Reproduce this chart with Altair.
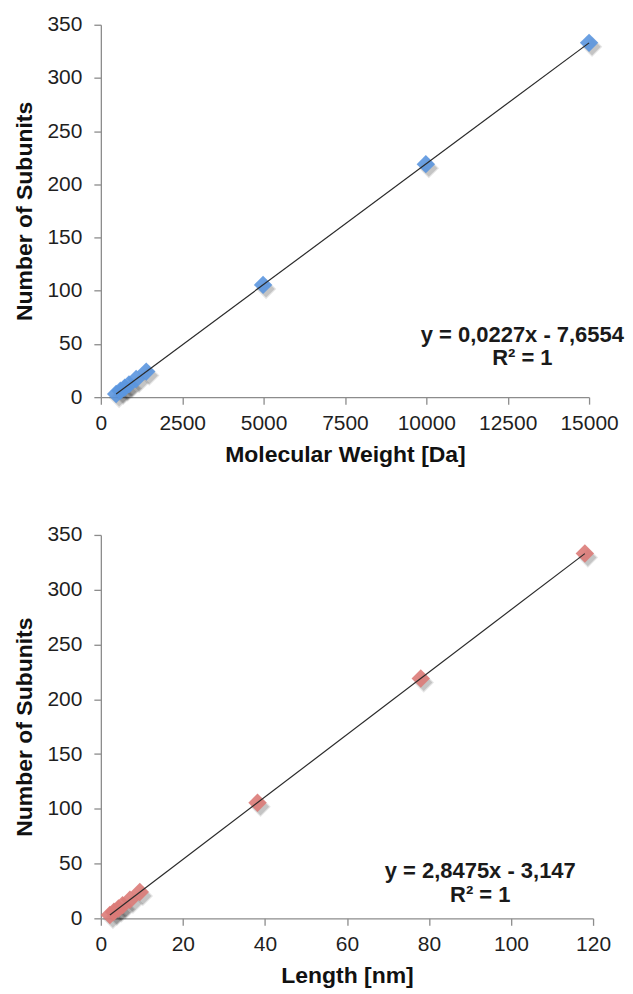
import altair as alt
import pandas as pd

# --- data ---
subunits = [3, 6, 9, 12, 17, 24, 105.5, 219, 333]
mol_weight = [470, 600, 735, 865, 1085, 1395, 4985, 9985, 15000]
length_nm = [2.2, 3.2, 4.3, 5.3, 7.1, 9.5, 38.2, 78.0, 118.0]

eq_top = ["y = 0,0227x  - 7,6554", "R² = 1"]
eq_top_x = [12950, 12950]
eq_top_y = [58.5, 37]

eq_bot = ["y = 2,8475x  - 3,147", "R² = 1"]
eq_bot_x = [92.5, 92.5]
eq_bot_y = [43.5, 21]

x_ticks_top = [0, 2500, 5000, 7500, 10000, 12500, 15000]
x_ticks_bot = [0, 20, 40, 60, 80, 100, 120]
y_ticks = [0, 50, 100, 150, 200, 250, 300, 350]

FONT = "Liberation Sans"

top_df = pd.DataFrame({"x": mol_weight, "n": subunits})
bot_df = pd.DataFrame({"x": length_nm, "n": subunits})
top_ann = pd.DataFrame({"x": eq_top_x, "n": eq_top_y, "t": eq_top})
bot_ann = pd.DataFrame({"x": eq_bot_x, "n": eq_bot_y, "t": eq_bot})


def panel(df, ann, xtitle, xticks, color, w, h):
    xenc = alt.X("x:Q", scale=alt.Scale(domain=[xticks[0], xticks[-1]], nice=False),
                 axis=alt.Axis(values=xticks, title=xtitle, format="d",
                               labelOverlap=False, labelFlush=False))
    yenc = alt.Y("n:Q", scale=alt.Scale(domain=[0, 350], nice=False),
                 axis=alt.Axis(values=y_ticks, title="Number of Subunits", format="d",
                               labelOverlap=False, labelFlush=False))
    base = alt.Chart(df).encode(x=xenc, y=yenc)
    shadow1 = base.mark_point(shape="diamond", filled=True, color="#000000",
                              opacity=0.10, size=420, xOffset=3, yOffset=4)
    shadow2 = base.mark_point(shape="diamond", filled=True, color="#000000",
                              opacity=0.14, size=300, xOffset=3, yOffset=4)
    pts = base.mark_point(shape="diamond", filled=True, color=color,
                          opacity=0.9, size=340)
    line = base.transform_regression("x", "n").mark_line(color="#2a2a2a", strokeWidth=1.2)
    txt = alt.Chart(ann).mark_text(font=FONT, fontSize=22, fontWeight="bold",
                                   color="#1a1a1a", align="center", baseline="middle").encode(
        x=alt.X("x:Q"), y=alt.Y("n:Q"), text="t:N")
    return alt.layer(shadow1, shadow2, pts, line, txt).properties(width=w, height=h)


top = panel(top_df, top_ann, "Molecular Weight [Da]", x_ticks_top, "#5b96df", 489, 373)
bot = panel(bot_df, bot_ann, "Length [nm]", x_ticks_bot, "#dc7b78", 493, 384)

chart = alt.vconcat(top, bot, spacing=138, bounds="flush").properties(
    padding={"left": 13, "top": 13, "right": 5, "bottom": 5}
).configure_view(stroke=None).configure_axis(
    grid=False,
    domainColor="#8c8c8c",
    tickColor="#8c8c8c",
    domainWidth=1.3,
    tickWidth=1.3,
    tickSize=7,
    labelFont=FONT,
    labelFontSize=21,
    labelColor="#1f1f1f",
    titleFont=FONT,
    titleFontSize=23,
    titleFontWeight="bold",
    titleColor="#111111",
).configure_axisY(labelPadding=12, titlePadding=10).configure_axisX(
    labelPadding=8, titlePadding=10
)

chart.save("out.html", embed_options={"renderer": "svg", "actions": False})
